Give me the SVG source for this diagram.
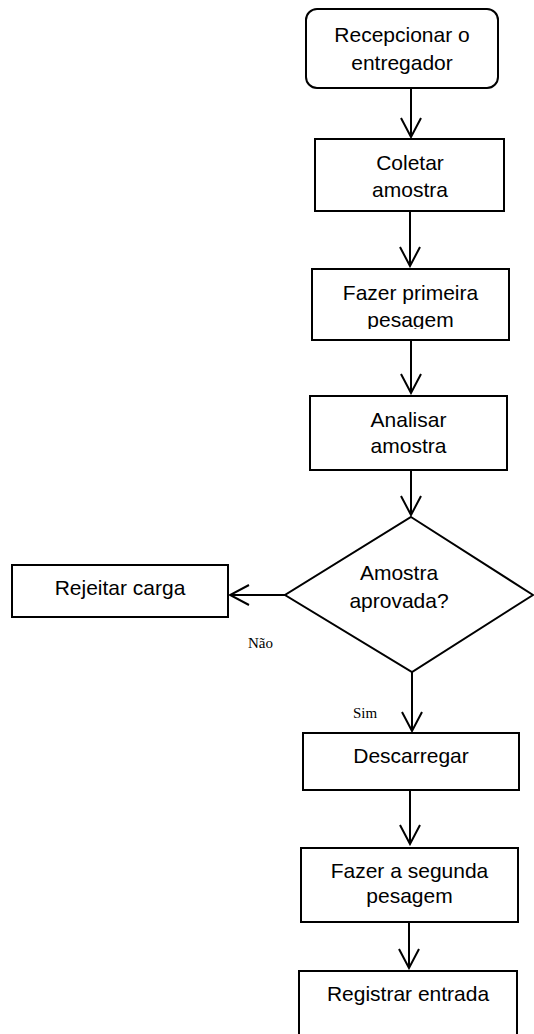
<svg xmlns="http://www.w3.org/2000/svg" width="534" height="1034" viewBox="0 0 534 1034">
  <style>
    .box { fill: #ffffff; stroke: #000000; stroke-width: 2; }
    .label { font-family: "Liberation Sans", Arial, sans-serif; font-size: 21px; fill: #000000; text-anchor: middle; }
    .tag { font-family: "Liberation Serif", "Times New Roman", serif; font-size: 15px; fill: #000000; }
    .edge { fill: none; stroke: #000000; stroke-width: 2; marker-end: url(#arrow); }
  </style>
  <defs>
    <!-- open V arrowhead -->
    <marker id="arrow" viewBox="-21 -12 23 24" markerWidth="23" markerHeight="24" refX="0" refY="0" orient="auto" markerUnits="userSpaceOnUse">
      <path d="M-19,-10 L0,0 L-19,10" fill="none" stroke="#000000" stroke-width="2"/>
    </marker>
    <clipPath id="clip-pesagem">
      <rect x="312" y="269" width="197" height="60"/>
    </clipPath>
  </defs>

  <rect width="534" height="1034" fill="#ffffff"/>

  <g id="connectors">
    <line class="edge" x1="411" y1="88" x2="411" y2="137"/>
    <line class="edge" x1="410" y1="211" x2="410" y2="266"/>
    <line class="edge" x1="411" y1="340" x2="411" y2="393"/>
    <line class="edge" x1="411" y1="470" x2="411" y2="515"/>
    <line class="edge" x1="285" y1="595" x2="230" y2="595"/>
    <line class="edge" x1="412" y1="672" x2="412" y2="731"/>
    <line class="edge" x1="410" y1="790" x2="410" y2="844"/>
    <line class="edge" x1="409" y1="922" x2="409" y2="968"/>
    <text class="tag" x="248" y="648">Não</text>
    <text class="tag" x="353" y="718">Sim</text>
  </g>

  <g id="recepcionar">
    <rect class="box" x="306" y="9" width="192" height="79" rx="11"/>
    <text class="label" x="402" y="42">Recepcionar o</text>
    <text class="label" x="402" y="70">entregador</text>
  </g>

  <g id="coletar">
    <rect class="box" x="315" y="139" width="189" height="72"/>
    <text class="label" x="410" y="170">Coletar</text>
    <text class="label" x="410" y="197">amostra</text>
  </g>

  <g id="primeira-pesagem">
    <rect class="box" x="312" y="269" width="197" height="71"/>
    <g clip-path="url(#clip-pesagem)">
      <text class="label" x="410.5" y="300">Fazer primeira</text>
      <text class="label" x="410.5" y="327">pesagem</text>
    </g>
  </g>

  <g id="analisar">
    <rect class="box" x="310" y="396" width="197" height="74"/>
    <text class="label" x="408.5" y="427">Analisar</text>
    <text class="label" x="408.5" y="453">amostra</text>
  </g>

  <g id="aprovada">
    <polygon class="box" points="411,517 533,595 412,672 285,595"/>
    <text class="label" x="399" y="580">Amostra</text>
    <text class="label" x="399" y="608">aprovada?</text>
  </g>

  <g id="rejeitar">
    <rect class="box" x="12" y="565" width="216" height="52"/>
    <text class="label" x="120" y="595">Rejeitar carga</text>
  </g>

  <g id="descarregar">
    <rect class="box" x="303" y="733" width="216" height="57"/>
    <text class="label" x="411" y="763">Descarregar</text>
  </g>

  <g id="segunda-pesagem">
    <rect class="box" x="301" y="848" width="217" height="74"/>
    <text class="label" x="409.5" y="878">Fazer a segunda</text>
    <text class="label" x="409.5" y="903">pesagem</text>
  </g>

  <g id="registrar">
    <rect class="box" x="299" y="971" width="218" height="70"/>
    <text class="label" x="408" y="1001">Registrar entrada</text>
  </g>
</svg>
